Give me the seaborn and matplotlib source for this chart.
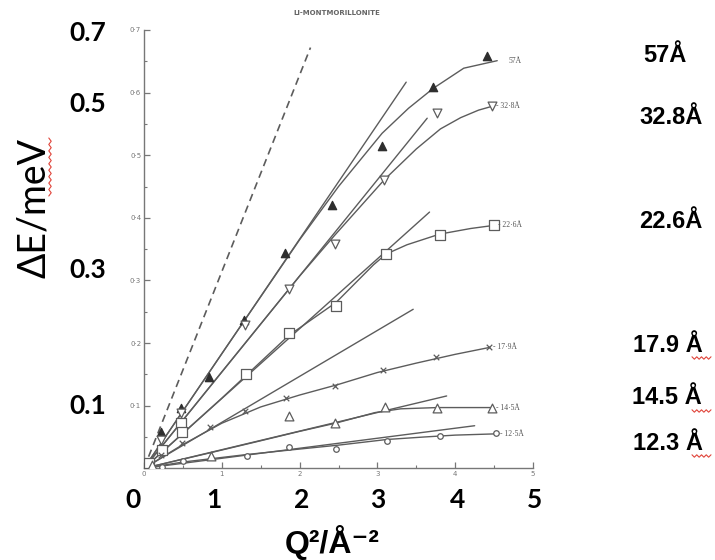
import matplotlib
matplotlib.use("Agg")
import matplotlib.pyplot as plt
import seaborn as sns
import pandas as pd
from matplotlib.lines import Line2D
from matplotlib.ticker import MultipleLocator

# Li-montmorillonite: quasi-elastic broadening ΔE (meV) against Q² (Å⁻²)
# measured points for each layer spacing
q57 = [0.05, 0.22, 0.48, 0.84, 1.29, 1.81, 2.42, 3.06, 3.72, 4.41]
e57 = [0.005, 0.058, 0.097, 0.146, 0.237, 0.344, 0.421, 0.514, 0.609, 0.659]

q328 = [0.22, 0.48, 1.30, 1.86, 2.45, 3.09, 3.77, 4.47]
e328 = [0.045, 0.088, 0.229, 0.286, 0.359, 0.461, 0.567, 0.578]

q226 = [0.06, 0.23, 0.47, 0.49, 1.31, 1.86, 2.47, 3.11, 3.80, 4.50]
e226 = [0.008, 0.030, 0.072, 0.058, 0.150, 0.216, 0.259, 0.342, 0.373, 0.388]

q179 = [0.215, 0.485, 0.85, 1.30, 1.82, 2.45, 3.07, 3.75, 4.44]
e179 = [0.022, 0.041, 0.0665, 0.0915, 0.112, 0.131, 0.157, 0.178, 0.193]

q145 = [0.10, 0.86, 1.86, 2.46, 3.10, 3.77, 4.47]
e145 = [0.006, 0.0196, 0.0835, 0.072, 0.098, 0.097, 0.097]

q123 = [0.23, 0.50, 1.32, 1.865, 2.47, 3.12, 3.81, 4.52]
e123 = [0.002, 0.0117, 0.0197, 0.0345, 0.031, 0.044, 0.052, 0.056]

# hand-drawn smooth fits through each set
fq57 = [0, 1.0, 2.0, 2.5, 3.06, 3.4, 3.72, 4.11, 4.54]
fe57 = [0, 0.183, 0.365, 0.45, 0.535, 0.575, 0.607, 0.639, 0.651]
fq328 = [0, 1.0, 2.0, 2.45, 3.09, 3.5, 3.81, 4.07, 4.3, 4.47]
fe328 = [0, 0.154, 0.307, 0.372, 0.461, 0.51, 0.542, 0.560, 0.572, 0.578]
fq226 = [0, 1.0, 1.86, 2.47, 2.95, 3.11, 3.38, 3.80, 4.2, 4.50]
fe226 = [0, 0.112, 0.212, 0.265, 0.325, 0.342, 0.357, 0.374, 0.383, 0.388]
fq179 = [0, 0.5, 1.0, 1.5, 2.0, 2.5, 3.0, 3.5, 4.0, 4.44]
fe179 = [0, 0.038, 0.072, 0.098, 0.117, 0.134, 0.153, 0.168, 0.182, 0.193]
fq145 = [0, 0.86, 1.5, 2.0, 2.46, 2.97, 3.3, 3.77, 4.47]
fe145 = [0, 0.025, 0.044, 0.059, 0.072, 0.089, 0.095, 0.097, 0.097]
fq123 = [0, 0.5, 1.32, 1.94, 2.5, 3.12, 3.6, 4.0, 4.52]
fe123 = [0, 0.010, 0.022, 0.030, 0.037, 0.046, 0.050, 0.053, 0.055]

# initial-slope (free diffusion) lines: slope in meV·Å² and where each stops
slopes = [0.183, 0.1536, 0.1115, 0.0734, 0.0297, 0.016]
slope_ends = [3.37, 3.64, 3.67, 3.46, 3.89, 4.25]
dashed_slope = 0.314
dashed_end = 2.14

curve_tags = ["57Å", "32·8Å", "22·6Å", "17·9Å", "14·5Å", "12·5Å"]
side_labels = ["57Å", "32.8Å", "22.6Å", "17.9 Å", "14.5 Å", "12.3 Å"]
y_big_labels = ["0.7", "0.5", "0.3", "0.1"]
x_big_labels = ["0", "1", "2", "3", "4", "5"]
y_scan_ticks = [0.1, 0.2, 0.3, 0.4, 0.5, 0.6, 0.7]
x_scan_ticks = [0, 1, 2, 3, 4, 5]

sns.set_theme(style="ticks")
plt.rcParams["font.family"] = ["DejaVu Sans"]

W, H = 715, 560
fig = plt.figure(figsize=(W / 100, H / 100), dpi=100)
fig.patch.set_facecolor("white")

x0, x5, y0, y7 = 144, 533, 468.3, 30
ax = fig.add_axes([x0 / W, (H - y0) / H, (x5 - x0) / W, (y0 - y7) / H])
ax.set_xlim(0, 5)
ax.set_ylim(0, 0.7)
ax.set_facecolor("white")

ink = "#5c5c5c"
dark = "#2e2e2e"

# free-diffusion reference (dashed)
sns.lineplot(x=[0, dashed_end], y=[0, dashed_slope * dashed_end], ax=ax,
             color=ink, lw=1.2, linestyle=(0, (4.5, 3)), sort=False, estimator=None)

# straight initial-slope lines
for s, qe in zip(slopes, slope_ends):
    sns.lineplot(x=[0, qe], y=[0, s * qe], ax=ax, color=ink, lw=1.0,
                 sort=False, estimator=None)

# smooth fits
for fq, fe in [(fq57, fe57), (fq328, fe328), (fq226, fe226),
               (fq179, fe179), (fq145, fe145), (fq123, fe123)]:
    sns.lineplot(x=fq, y=fe, ax=ax, color=ink, lw=1.0, sort=False, estimator=None)

# data markers
sets = [
    (q57, e57, "^", dark, dark, 36),
    (q328, e328, "v", "white", ink, 40),
    (q226, e226, "s", "white", ink, 46),
    (q179, e179, "x", ink, ink, 16),
    (q145, e145, "^", "white", ink, 40),
    (q123, e123, "o", "white", ink, 16),
]
for q, e, m, fc, ec, sz in sets:
    df = pd.DataFrame({"q": q, "e": e})
    sns.scatterplot(data=df, x="q", y="e", ax=ax, marker=m, s=sz,
                    facecolor=fc, edgecolor=ec, color=ec, linewidth=0.9, zorder=3)

# small tags at the curve ends
ends = [(fq57[-1], fe57[-1], 0.14), (fq328[-1], fe328[-1], 0.05),
        (fq226[-1], fe226[-1], 0.05), (fq179[-1], fe179[-1], 0.05),
        (fq145[-1], fe145[-1], 0.05), (fq123[-1], fe123[-1], 0.05)]
for (xe, ye, dx), tag in zip(ends, curve_tags):
    prefix = "" if tag == "57Å" else "- "
    ax.text(xe + dx, ye, prefix + tag, fontsize=5.5, color="#555555",
            family=["Liberation Serif", "DejaVu Serif"], va="center", ha="left")

# axes in the style of the printed figure
sns.despine(ax=ax)
for side in ("left", "bottom"):
    ax.spines[side].set_color("#777777")
    ax.spines[side].set_linewidth(1.0)
ax.xaxis.set_major_locator(MultipleLocator(1))
ax.xaxis.set_minor_locator(MultipleLocator(0.5))
ax.yaxis.set_major_locator(MultipleLocator(0.1))
ax.yaxis.set_minor_locator(MultipleLocator(0.05))
ax.tick_params(which="major", direction="in", length=4, width=0.9, color="#777777",
               labelsize=5, labelcolor="#777777", pad=2)
ax.tick_params(which="minor", direction="in", length=2.5, width=0.8, color="#777777")
ax.set_xticks(x_scan_ticks)
ax.set_xticklabels([str(v) for v in x_scan_ticks])
ax.set_yticks([0] + y_scan_ticks)
ax.set_yticklabels([""] + [f"{v:.1f}".replace(".", "·") for v in y_scan_ticks])
ax.set_xlabel("")
ax.set_ylabel("")

fig.text(337 / W, 1 - 13 / H, "LI-MONTMORILLONITE", fontsize=5, color="#666666",
         fontweight="bold", ha="center", va="center")


def px(x, y):
    return x / W, 1 - y / H


# large annotation labels
for lab, y in zip(y_big_labels, [33, 104, 270, 406]):
    fig.text(*px(88, y), lab, fontsize=19, fontweight="bold", family=["Lato", "DejaVu Sans"],
             color="black", ha="center", va="center")
for lab, x in zip(x_big_labels, [133, 214, 302, 378, 458, 535]):
    fig.text(*px(x, 500), lab, fontsize=19, fontweight="bold", family=["Lato", "DejaVu Sans"],
             color="black", ha="center", va="center")

fig.text(*px(34, 208), "ΔE/meV", fontsize=27, family=["Lato", "DejaVu Sans"],
         rotation=90, color="black", ha="center", va="center")
fig.text(*px(332, 543), "Q²/Å⁻²", fontsize=23, fontweight="bold",
         family=["Liberation Sans", "DejaVu Sans"], color="black", ha="center", va="center")

side_x = [665, 671, 671, 668, 667, 668]
side_y = [55, 117, 222, 345, 398, 443]
for lab, x, y in zip(side_labels, side_x, side_y):
    fig.text(*px(x, y), lab, fontsize=17, fontweight="bold",
             family=["Liberation Sans", "DejaVu Sans"], color="black", ha="center", va="center")


def squiggle(xa, ya, xb, yb, n=10, amp=1.2, vertical=False):
    xs, ys = [], []
    for i in range(n + 1):
        t = i / n
        off = amp if i % 2 else -amp
        if vertical:
            xs.append(xa + off)
            ys.append(ya + (yb - ya) * t)
        else:
            xs.append(xa + (xb - xa) * t)
            ys.append(ya + off)
    fig.add_artist(Line2D([v / W for v in xs], [1 - v / H for v in ys],
                          transform=fig.transFigure, color="#e0443a", lw=0.8))


squiggle(50, 138, 50, 196, n=18, vertical=True)
for y in [358, 411, 456]:
    squiggle(692, y, 711, y, n=8)

fig.savefig("out.png", dpi=100, facecolor="white")
